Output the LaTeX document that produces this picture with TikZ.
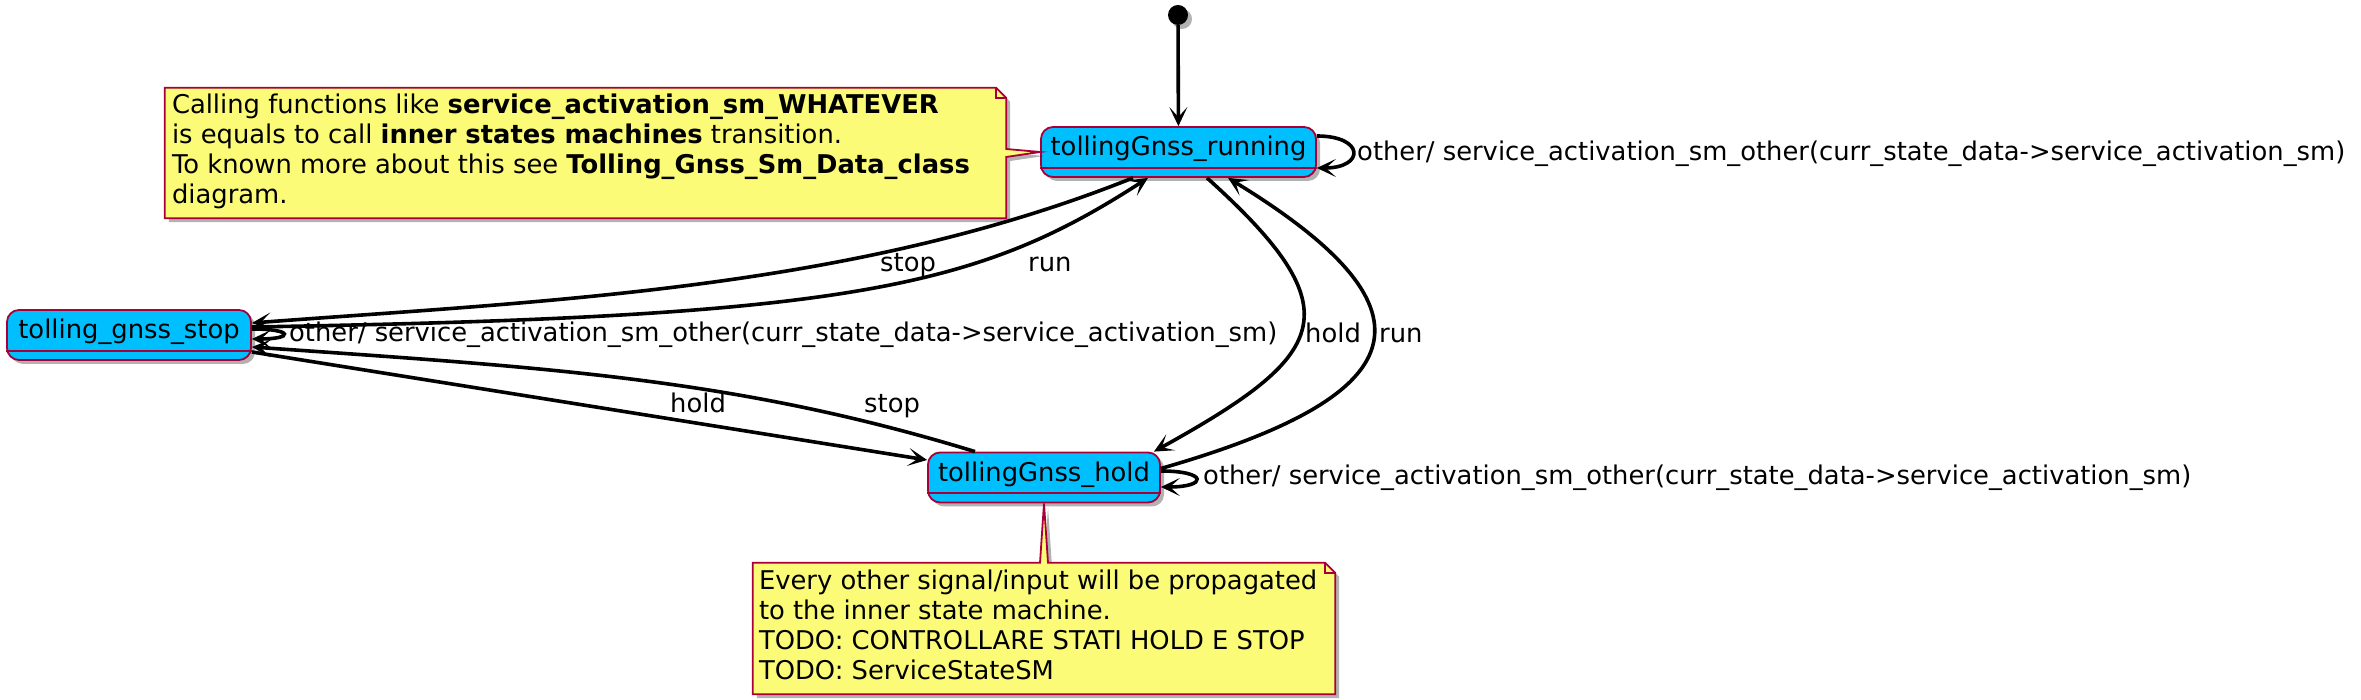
\documentclass[tikz,border=0pt]{standalone}
\usepackage{fontspec}
\setmainfont{DejaVu Sans}
\usetikzlibrary{arrows.meta,shadows}
\definecolor{stfill}{RGB}{0,191,255}
\definecolor{stline}{RGB}{168,0,54}
\definecolor{ntfill}{RGB}{251,251,119}
\newcommand\othertxt{other/ service\_activation\_sm\_other(curr\_state\_data->service\_activation\_sm)}
\begin{document}
\begin{tikzpicture}[x=1pt,y=1pt,>={Stealth[length=19pt,width=18pt,inset=10pt]},
  font=\fontsize{25.8}{30}\selectfont,
  shd/.style={drop shadow={shadow xshift=4pt,shadow yshift=-4pt,opacity=.3,fill=black}},
  st/.style={draw=stline,fill=stfill,line width=1.8pt,rounded corners=12pt,minimum height=50pt,
    inner xsep=0pt,text height=19pt,text depth=11pt,shd},
  nt/.style={draw=stline,fill=ntfill,line width=1.8pt,shd},
  tr/.style={->,line width=3.6pt},
  lb/.style={anchor=base west,inner sep=0pt}]
  \useasboundingbox (0,0) rectangle (2361,700);

  \node[circle,fill=black,minimum size=20pt,inner sep=0pt,shd] (INIT) at (1178,685) {};
  \node[st,minimum width=275pt] (RUN) at (1178.5,548) {tollingGnss\_running};
  \node[st,minimum width=244pt] (STOP) at (129,365) {tolling\_gnss\_stop};
  \node[st,minimum width=232pt] (HOLD) at (1044,222.5) {tollingGnss\_hold};
  \foreach \s in {RUN,STOP,HOLD}
    \draw[stline,line width=1.8pt] ([yshift=10pt]\s.south west) -- ([yshift=10pt]\s.south east);

  \node[inner sep=0pt,minimum width=841pt,minimum height=130pt] (N1) at (585.5,547) {};
  \node[inner sep=0pt,minimum width=582pt,minimum height=131pt] (N2) at (1044,71.5) {};
  \draw[nt] (N1.north west) -- ([xshift=-10pt]N1.north east) -- ([yshift=-10pt]N1.north east)
    -- ([yshift=4pt]N1.east) -- (RUN.west) -- ([yshift=-4pt]N1.east) -- (N1.south east)
    -- (N1.south west) -- cycle;
  \draw[stline,line width=1.8pt] ([xshift=-10pt]N1.north east) |- ([yshift=-10pt]N1.north east);
  \draw[nt] (N2.north west) -- ([xshift=-4pt]N2.north) -- (HOLD.south) -- ([xshift=4pt]N2.north)
    -- ([xshift=-10pt]N2.north east) -- ([yshift=-10pt]N2.north east) -- (N2.south east)
    -- (N2.south west) -- cycle;
  \draw[stline,line width=1.8pt] ([xshift=-10pt]N2.north east) |- ([yshift=-10pt]N2.north east);
  \node[anchor=north west,inner sep=0pt] (T1) at ([xshift=7pt,yshift=-5pt]N1.north west) {%
    \begin{tabular}{@{}l@{}}
      Calling functions like \textbf{service\_activation\_sm\_WHATEVER}\\
      is equals to call \textbf{inner states machines} transition.\\
      To known more about this see \textbf{Tolling\_Gnss\_Sm\_Data\_class}\\
      diagram.
    \end{tabular}};
  \node[anchor=north west,inner sep=0pt] (T2) at ([xshift=6pt,yshift=-6pt]N2.north west) {%
    \begin{tabular}{@{}l@{}}
      Every other signal/input will be propagated\\
      to the inner state machine.\\
      TODO: CONTROLLARE STATI HOLD E STOP\\
      TODO: ServiceStateSM
    \end{tabular}};

  \draw[tr] (INIT) -- (RUN);
  \draw[tr] ([xshift=-45.5pt]RUN.south) .. controls +(201.8:300) and +(4.3:300) .. ([yshift=12pt]STOP.east);
  \draw[tr] ([yshift=8pt]STOP.east) .. controls +(600,10) and +(-170,-110) .. ([xshift=-30.5pt]RUN.south);
  \draw[tr] ([yshift=-17pt]STOP.east) -- ([yshift=17.5pt]HOLD.west);
  \draw[tr] ([xshift=-69pt]HOLD.north) .. controls +(163:250) and +(-4:300) .. ([yshift=-12pt]STOP.east);
  \draw[tr] ([xshift=28.5pt]RUN.south) .. controls +(-42:200) and +(29:200) .. ([xshift=-7pt]HOLD.north east);
  \draw[tr] ([yshift=9pt]HOLD.east) .. controls +(16:260) and +(-31.4:260) .. ([xshift=49.5pt]RUN.south);
  \draw[tr] ([yshift=16pt]RUN.east) .. controls +(48,0) and +(48,0) .. ([yshift=-16pt]RUN.east);
  \draw[tr] ([yshift=6pt]STOP.east) .. controls +(42,0) and +(42,0) .. ([yshift=-4pt]STOP.east);
  \draw[tr] ([yshift=6.5pt]HOLD.east) .. controls +(47,0) and +(47,0) .. ([yshift=-9.5pt]HOLD.east);

  \node[lb] (LS1) at (880,428) {stop};
  \node[lb] (LR1) at (1028,428) {run};
  \node[lb] (LH1) at (1305,357) {hold};
  \node[lb] (LR2) at (1379,357) {run};
  \node[lb] (LH2) at (670,287) {hold};
  \node[lb] (LS2) at (864,287) {stop};
  \node[lb] (LO1) at (1357,539.3) {\othertxt};
  \node[lb] (LO2) at (289,358) {\othertxt};
  \node[lb] (LO3) at (1203,215) {\othertxt};
\end{tikzpicture}
\end{document}
